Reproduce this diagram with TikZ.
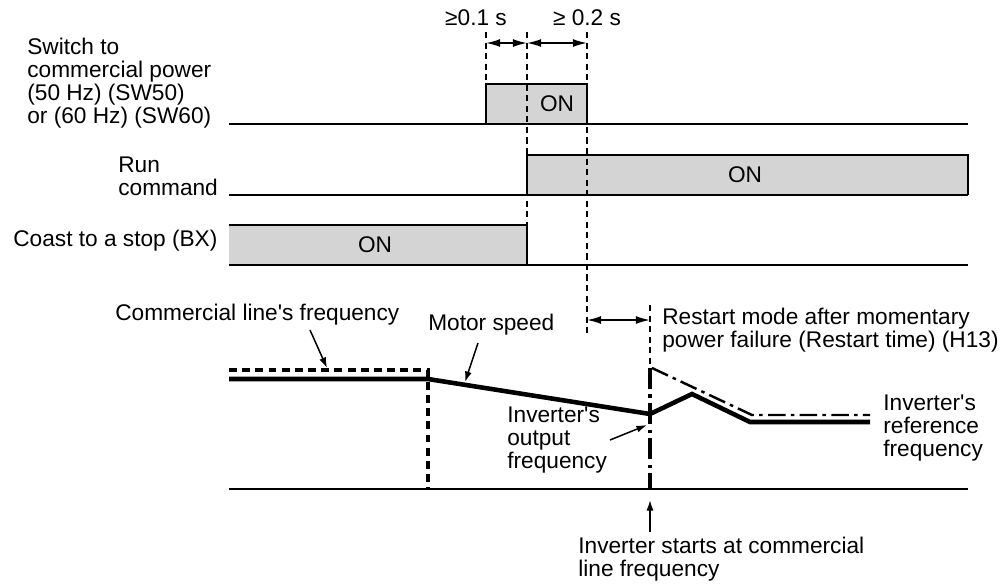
\documentclass[tikz,border=0pt]{standalone}
\usepackage{fontspec}
\setmainfont{Liberation Sans}
\usetikzlibrary{positioning, arrows.meta}
\definecolor{ongray}{RGB}{212,212,212}
\tikzstyle{every node}=[font=\fontsize{12.9}{13}\selectfont, inner sep=0pt]
\tikzstyle{lbl}=[align=left, anchor=west]
\tikzstyle{sig}=[line width=0.85pt]
\tikzstyle{guide}=[line width=0.75pt, dash pattern=on 3.5pt off 2.5pt]
\tikzstyle{motor}=[line width=2.6pt, line join=miter]
\tikzstyle{mains}=[line width=2pt, dash pattern=on 4.5pt off 3pt]
\tikzstyle{refline}=[line width=1.4pt, dash pattern=on 10pt off 3pt on 2pt off 3pt]
\tikzstyle{restart}=[line width=2.3pt, dash pattern=on 12pt off 3pt on 2pt off 3pt]
\tikzstyle{span}=[sig, {Latex[length=8pt,width=4.5pt]}-{Latex[length=8pt,width=4.5pt]}]
\tikzstyle{pointer}=[sig, ->]
\newcommand{\ap}{\textquotesingle}

\begin{document}
\begin{tikzpicture}[>={Latex[length=6pt,width=4pt]}, x=0.02cm, y=-0.02cm]
            \useasboundingbox (0,0) rectangle (1008,586);
            % pulses
            \fill[ongray] (486,84) rectangle (587,124);
            \fill[ongray] (527,155) rectangle (968,195);
            \fill[ongray] (229,225) rectangle (527,265);
            \draw[sig] (486,124) -- (486,84) -- (587,84) -- (587,124);
            \draw[sig] (527,195) -- (527,155) -- (968,155) -- (968,195);
            \draw[sig] (229,225) -- (527,225) -- (527,265);
            \draw[sig] (229,124) -- (968,124);
            \draw[sig] (229,195) -- (968,195);
            \draw[sig] (229,265) -- (968,265);
            \node (Osw) at (557,104) {ON};
            \node (Orun) at (745,175) {ON};
            \node (Obx) at (375,245) {ON};
            \node[lbl] (Lsw) at (27,83) {Switch to\\commercial power\\(50 Hz) (SW50)\\or (60 Hz) (SW60)};
            \node[lbl] (Lrun) at (118,176) {Run\\command};
            \node[lbl] (Lbx) at (13,241) {Coast to a stop (BX)};
            % timing marks
            \coordinate (Ta) at (486,43);
            \coordinate (Tb) at (527,43);
            \coordinate (Tc) at (587,43);
            \coordinate (Td) at (587,320);
            \coordinate (Te) at (650,320);
            \draw[guide] (486,32) -- (486,84);
            \draw[guide] (527,32) -- (527,265);
            \draw[guide] (587,32) -- (587,335);
            \draw[guide] (650,305) -- (650,368);
            \draw[span] (Ta) -- (Tb);
            \draw[span] (Tb) -- (Tc);
            \draw[span] (Td) -- (Te);
            \node (Tmin1) at (476,18) {≥0.1 s};
            \node (Tmin2) at (587,18) {≥ 0.2 s};
            % frequencies
            \draw[sig] (229,489) -- (968,489);
            \draw[mains] (229,370) -- (428,370) -- (428,489);
            \draw[motor] (229,379) -- (428,379) -- (650,414) -- (692,394) -- (750,422) -- (870,422);
            \draw[refline] (652,368) -- (752,415) -- (870,415);
            \draw[restart] (650,368) -- (650,489);
            \node[lbl] (Lmains) at (115,315) {Commercial line\ap s frequency};
            \node[lbl] (Lmotor) at (428,325) {Motor speed};
            \node[lbl] (Lout) at (507,440) {Inverter\ap s\\output\\frequency};
            \node[lbl] (Lref) at (883,428) {Inverter\ap s\\reference\\frequency};
            \node[lbl] (Lrestart) at (662,330) {Restart mode after momentary\\power failure (Restart time) (H13)};
            \node[lbl] (Lstart) at (578,559) {Inverter starts at commercial\\line frequency};
            \coordinate (Pmains) at (310,330);
            \coordinate (Qmains) at (327,368);
            \coordinate (Pmotor) at (478,343);
            \coordinate (Qmotor) at (465,382);
            \coordinate (Pout) at (610,440);
            \coordinate (Qout) at (647,425);
            \coordinate (Pstart) at (650,532);
            \coordinate (Qstart) at (650,500);
            \draw[pointer] (Pmains) -- (Qmains);
            \draw[pointer] (Pmotor) -- (Qmotor);
            \draw[pointer] (Pout) -- (Qout);
            \draw[pointer] (Pstart) -- (Qstart);
        \end{tikzpicture}
\end{document}
